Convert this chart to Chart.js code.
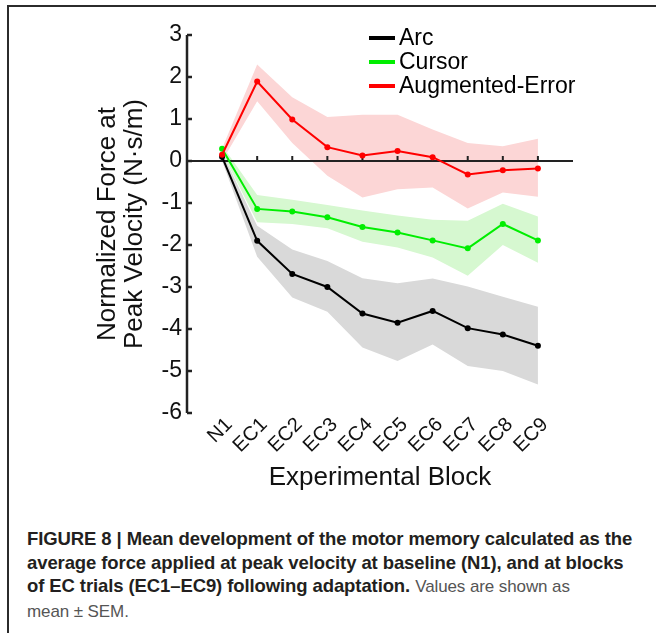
<!DOCTYPE html>
<html>
<head>
<meta charset="utf-8">
<script src="https://cdn.jsdelivr.net/npm/chart.js@4/dist/chart.umd.min.js"></script>
<style>
    html, body { margin: 0; padding: 0; background: #fff; }
    #page { position: relative; width: 656px; height: 633px; overflow: hidden; font-family: 'Liberation Sans', Arial, sans-serif; }
    #chartBox { position: absolute; left: 0; top: 0; width: 656px; height: 500px; }
    .frame-left { position: absolute; left: 7px; top: 5px; width: 2px; height: 628px; background: #2b2b2b; }
    .frame-top { position: absolute; left: 7px; top: 5px; width: 649px; height: 2px; background: #2b2b2b; }
    #caption { position: absolute; left: 27px; top: 527px; font-size: 18.5px; line-height: 23.5px; color: #231f20; white-space: nowrap; letter-spacing: -0.1px; }
    #caption b { font-weight: bold; }
    #caption span { color: #555; font-size: 17px; }
</style>
</head>
<body>
<div id="page">
    <div class="frame-left"></div>
    <div class="frame-top"></div>
    <div id="chartBox"><canvas id="forceChart" width="656" height="500"></canvas></div>
    <div id="caption">
        <b>FIGURE 8 | Mean development of the motor memory calculated as the<br>
        average force applied at peak velocity at baseline (N1), and at blocks<br>
        of EC trials (EC1–EC9) following adaptation.</b> <span>Values are shown as<br>
        mean ± SEM.</span>
    </div>
</div>
<script>
// Block labels on the x axis
const blockLabels = ['N1', 'EC1', 'EC2', 'EC3', 'EC4', 'EC5', 'EC6', 'EC7', 'EC8', 'EC9'];
const seriesNames = ['Arc', 'Cursor', 'Augmented-Error'];
const yTickValues = [3, 2, 1, 0, -1, -2, -3, -4, -5, -6];

// Arc (black): mean and mean +/- SEM
const arcMean  = [0.10, -1.90, -2.69, -3.00, -3.63, -3.85, -3.57, -3.98, -4.13, -4.40];
const arcUpper = [0.20, -1.54, -2.11, -2.38, -2.79, -2.91, -2.80, -2.99, -3.23, -3.47];
const arcLower = [0.00, -2.28, -3.25, -3.59, -4.44, -4.76, -4.37, -4.88, -5.00, -5.32];

// Cursor (green)
const cursorMean  = [0.29, -1.14, -1.20, -1.34, -1.57, -1.70, -1.89, -2.08, -1.50, -1.89];
const cursorUpper = [0.37, -0.81, -0.92, -1.05, -1.18, -1.30, -1.40, -1.42, -1.02, -1.32];
const cursorLower = [0.20, -1.46, -1.50, -1.60, -1.92, -2.06, -2.30, -2.73, -2.00, -2.42];

// Augmented-Error (red)
const augMean  = [0.15, 1.89, 0.99, 0.33, 0.13, 0.24, 0.09, -0.32, -0.22, -0.18];
const augUpper = [0.30, 2.30, 1.52, 1.05, 1.10, 1.10, 0.75, 0.43, 0.35, 0.53];
const augLower = [0.00, 1.42, 0.43, -0.35, -0.87, -0.67, -0.63, -1.13, -0.75, -0.85];

const lineColors = ['#000000', '#00ee00', '#ff0000'];
const bandColors = ['#d9d9d9', '#d6f8d0', '#fcd6d6'];
const fontFamily = "'Liberation Sans', Arial, sans-serif";

function toPoints(values) {
    return values.map((v, i) => ({ x: i, y: v }));
}

function lineSet(label, values, color) {
    return {
        label: label,
        data: toPoints(values),
        borderColor: color,
        backgroundColor: color,
        borderWidth: 2,
        pointRadius: 3,
        pointBorderWidth: 0,
        fill: false,
        tension: 0
    };
}

function bandSet(values, color, fill) {
    return {
        label: '',
        data: toPoints(values),
        borderWidth: 0,
        borderColor: 'rgba(0,0,0,0)',
        backgroundColor: color,
        pointRadius: 0,
        fill: fill,
        tension: 0
    };
}

// Axis lines, inward ticks, zero line and the legend
const axesPlugin = {
    id: 'matlabAxes',
    beforeDatasetsDraw(chart) {
        const ctx = chart.ctx;
        const x = chart.scales.x;
        const y = chart.scales.y;
        const y0 = y.getPixelForValue(0);
        ctx.save();
        ctx.strokeStyle = '#222';
        ctx.lineWidth = 2;
        ctx.beginPath();
        ctx.moveTo(x.getPixelForValue(-1), y0);
        ctx.lineTo(x.getPixelForValue(10), y0);
        blockLabels.forEach((l, i) => {
            const px = x.getPixelForValue(i);
            ctx.moveTo(px, y0);
            ctx.lineTo(px, y0 - 5);
        });
        ctx.stroke();
        ctx.restore();
    },
    afterDraw(chart) {
        const ctx = chart.ctx;
        const x = chart.scales.x;
        const y = chart.scales.y;
        const left = x.getPixelForValue(-1);
        ctx.save();
        ctx.strokeStyle = '#222';
        ctx.lineWidth = 2.5;
        ctx.beginPath();
        ctx.moveTo(left, y.getPixelForValue(3));
        ctx.lineTo(left, y.getPixelForValue(-6));
        yTickValues.forEach(v => {
            const py = y.getPixelForValue(v);
            ctx.moveTo(left, py);
            ctx.lineTo(left + 5, py);
        });
        ctx.stroke();

        // legend
        const area = chart.chartArea;
        ctx.font = '23px ' + fontFamily;
        ctx.textBaseline = 'middle';
        ctx.fillStyle = '#000';
        seriesNames.forEach((name, i) => {
            const ly = area.top + 3 + i * 24;
            ctx.strokeStyle = lineColors[i];
            ctx.lineWidth = 4;
            ctx.beginPath();
            ctx.moveTo(area.left + 182, ly);
            ctx.lineTo(area.left + 208, ly);
            ctx.stroke();
            ctx.fillText(name, area.left + 212, ly + 1);
        });
        ctx.restore();
    }
};

const chart = new Chart(document.getElementById('forceChart'), {
    type: 'line',
    data: {
        datasets: [
            lineSet(seriesNames[2], augMean, lineColors[2]),
            lineSet(seriesNames[1], cursorMean, lineColors[1]),
            lineSet(seriesNames[0], arcMean, lineColors[0]),
            bandSet(augUpper, bandColors[2], '+1'),
            bandSet(augLower, bandColors[2], false),
            bandSet(cursorUpper, bandColors[1], '+1'),
            bandSet(cursorLower, bandColors[1], false),
            bandSet(arcUpper, bandColors[0], '+1'),
            bandSet(arcLower, bandColors[0], false)
        ]
    },
    options: {
        responsive: false,
        animation: false,
        layout: { padding: { left: 94, right: 83, top: 35, bottom: 0 } },
        plugins: {
            legend: { display: false },
            tooltip: { enabled: false },
            filler: { drawTime: 'beforeDatasetsDraw' }
        },
        scales: {
            x: {
                type: 'linear',
                min: -1,
                max: 10,
                grid: { display: false, drawTicks: false },
                border: { display: false },
                afterBuildTicks: scale => {
                    scale.ticks = blockLabels.map((l, i) => ({ value: i }));
                },
                afterFit: scale => { scale.height = 87; },
                ticks: {
                    autoSkip: false,
                    minRotation: 45,
                    maxRotation: 45,
                    padding: 0,
                    labelOffset: 7,
                    color: '#111',
                    font: { family: fontFamily, size: 20 },
                    callback: v => blockLabels[v]
                },
                title: {
                    display: true,
                    text: 'Experimental Block',
                    color: '#111',
                    font: { family: fontFamily, size: 26 },
                    padding: { top: 0, bottom: 7 }
                }
            },
            y: {
                min: -6,
                max: 3,
                grid: { display: false, drawTicks: false },
                border: { display: false },
                afterBuildTicks: scale => {
                    scale.ticks = yTickValues.map(v => ({ value: v }));
                },
                afterFit: scale => { scale.width = 93; },
                ticks: {
                    padding: 5,
                    color: '#111',
                    font: { family: fontFamily, size: 23 }
                },
                title: {
                    display: true,
                    text: ['Normalized Force at', 'Peak Velocity (N·s/m)'],
                    color: '#111',
                    font: { family: fontFamily, size: 26, lineHeight: 1.04 },
                    padding: { top: 0, bottom: 0 }
                }
            }
        }
    },
    plugins: [axesPlugin]
});
</script>
</body>
</html>
